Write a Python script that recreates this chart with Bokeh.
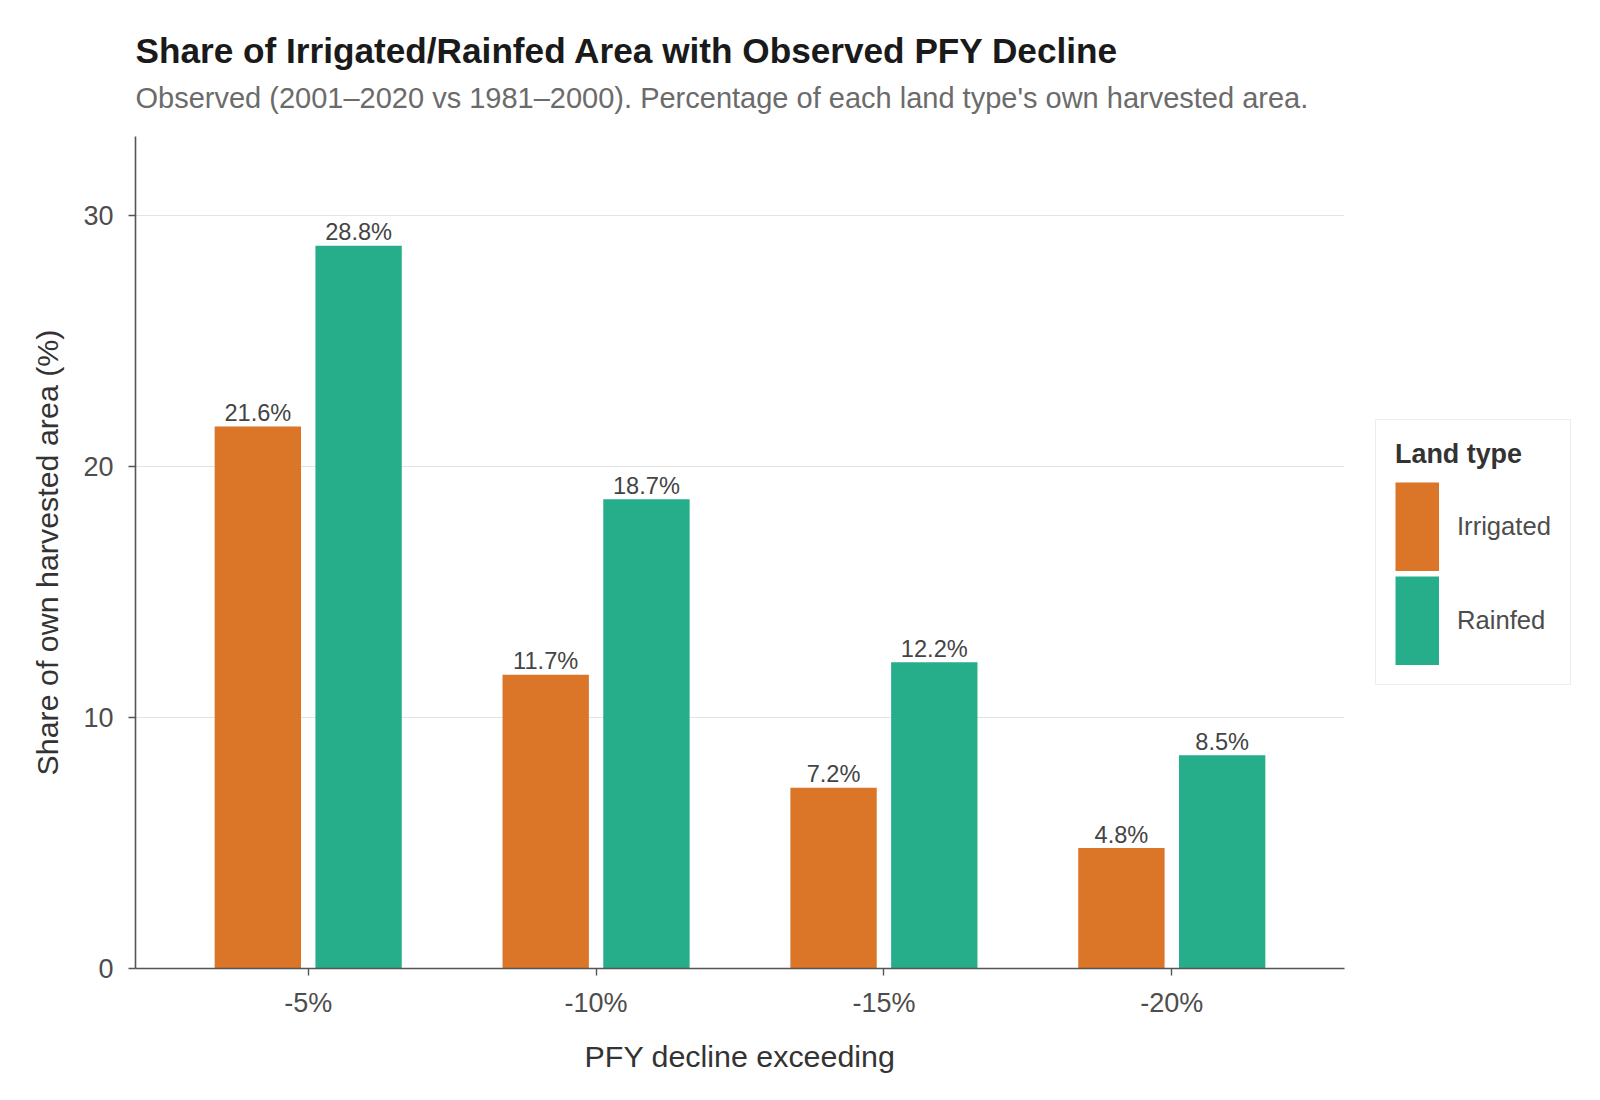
from bokeh.plotting import figure
from bokeh.models import (ColumnDataSource, FactorRange, Range1d, FixedTicker,
                          Legend, LegendItem, Title)
from bokeh.transform import dodge
from bokeh.core.properties import value
from bokeh.embed import file_html
from bokeh.resources import INLINE

# Data: share of each land type's own harvested area with a PFY decline beyond each threshold
thresholds = ["-5%", "-10%", "-15%", "-20%"]
irrigated = [21.6, 11.7, 7.2, 4.8]
rainfed = [28.8, 18.7, 12.2, 8.5]
land_types = ["Irrigated", "Rainfed"]
y_ticks = [0, 10, 20, 30]

COLORS = ["#DB7527", "#26AD89"]
FONT = "Liberation Sans"

src = ColumnDataSource(dict(
    thr=thresholds,
    irr=irrigated,
    rain=rainfed,
    irr_lbl=[f"{v:.1f}%" for v in irrigated],
    rain_lbl=[f"{v:.1f}%" for v in rainfed],
))

x_range = FactorRange(factors=thresholds, range_padding=0.1,
                      range_padding_units="absolute")

p = figure(x_range=x_range, y_range=Range1d(0, 33.15),
           frame_width=1209, frame_height=832, output_backend="svg",
           toolbar_location=None, title_location=None,
           min_border_left=135, min_border_right=256,
           min_border_top=136, min_border_bottom=132)
p.outline_line_color = None
p.background_fill_color = "white"
p.border_fill_color = "white"

# Titles (subtitle added first so it sits below the main title)
p.add_layout(Title(text="Observed (2001\u20132020 vs 1981\u20132000). Percentage of each land type's own harvested area.",
                   text_font=FONT, text_font_size="29px", text_font_style="normal",
                   text_color="#6b6b6b", align="left", standoff=45), "above")
p.add_layout(Title(text="Share of Irrigated/Rainfed Area with Observed PFY Decline",
                   text_font=FONT, text_font_size="35.2px", text_font_style="bold",
                   text_color="#1a1a1a", align="left", standoff=-24), "above")

# Bars
off = 0.175
r_irr = p.vbar(x=dodge("thr", -off, range=x_range), top="irr", width=0.3,
               source=src, fill_color=COLORS[0], line_color=None)
r_rain = p.vbar(x=dodge("thr", off, range=x_range), top="rain", width=0.3,
                source=src, fill_color=COLORS[1], line_color=None)

# Value labels above bars
for col, lbl, dx in (("irr", "irr_lbl", -off), ("rain", "rain_lbl", off)):
    p.text(x=dodge("thr", dx, range=x_range), y=col, text=lbl, source=src,
           text_align="center", text_baseline="alphabetic", y_offset=-13.5,
           text_font=value(FONT), text_font_size="23.6px", text_color="#444444")

# Axes
for ax in (p.xaxis[0], p.yaxis[0]):
    ax.axis_line_color = "#555555"
    ax.axis_line_width = 1.6
    ax.major_tick_line_color = "#555555"
    ax.major_tick_line_width = 1.4
    ax.major_tick_out = 7
    ax.major_tick_in = 0
    ax.minor_tick_line_color = None
    ax.major_label_text_font = FONT
    ax.major_label_text_font_size = "27px"
    ax.major_label_text_color = "#4d4d4d"
    ax.axis_label_text_font = FONT
    ax.axis_label_text_font_size = "30.4px"
    ax.axis_label_text_font_style = "normal"
    ax.axis_label_text_color = "#333333"

p.xaxis.axis_label = "PFY decline exceeding"
p.xaxis.major_label_standoff = 12
p.xaxis.axis_label_standoff = 18
p.yaxis.axis_label = "Share of own harvested area (%)"
p.yaxis.major_label_standoff = 15
p.yaxis.axis_label_standoff = 16
p.yaxis.ticker = FixedTicker(ticks=y_ticks)

p.xgrid.grid_line_color = None
p.ygrid.grid_line_color = "#e3e3e3"
p.ygrid.grid_line_width = 1.2

# Legend keys: thick line renderers parked far below the visible y-range,
# so only their legend swatches (solid full-size blocks) show
key_src = ColumnDataSource(dict(x=[thresholds[0], thresholds[-1]], y=[-50, -50]))
key_irr = p.line(x="x", y="y", source=key_src, line_color=COLORS[0],
                 line_width=89, line_cap="butt")
key_rain = p.line(x="x", y="y", source=key_src, line_color=COLORS[1],
                  line_width=89, line_cap="butt")

legend = Legend(
    items=[LegendItem(label=land_types[0], renderers=[key_irr]),
           LegendItem(label=land_types[1], renderers=[key_rain])],
    title="Land type", location="center_left", margin=31,
    padding=19, glyph_width=44, glyph_height=89, spacing=5,
    label_standoff=18, title_standoff=12,
    title_text_font=FONT, title_text_font_size="26.9px",
    title_text_font_style="bold", title_text_color="#333333",
    label_text_font=FONT, label_text_font_size="25.6px",
    label_text_color="#4d4d4d",
    border_line_color="#dcdcdc", border_line_width=1.5,
    background_fill_color="white", background_fill_alpha=1.0,
)
p.add_layout(legend, "right")

open("out.html", "w").write(file_html(p, INLINE))
